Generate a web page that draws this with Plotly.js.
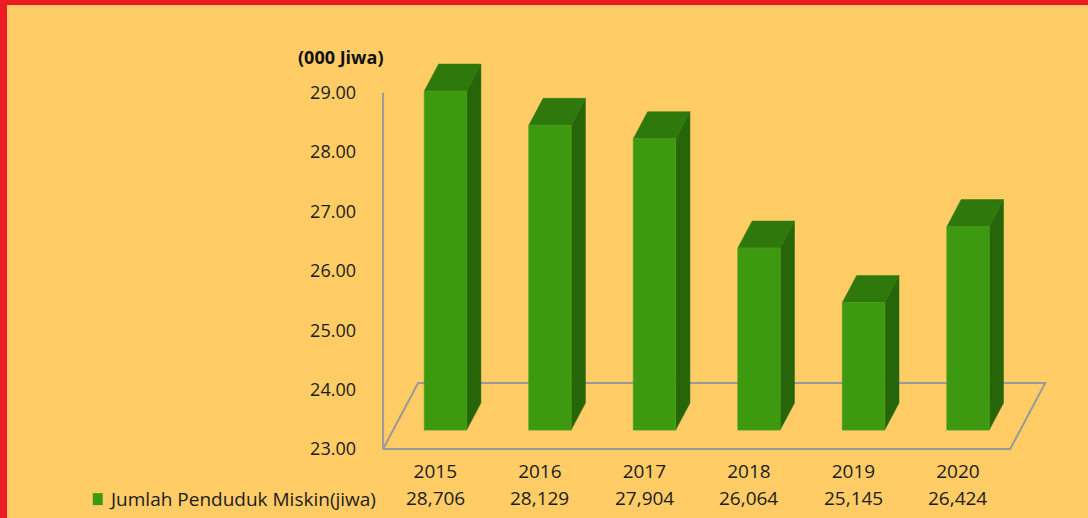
<!DOCTYPE html>
<html>
<head>
<meta charset="utf-8">
<script src="https://cdn.plot.ly/plotly-3.0.1.min.js"></script>
<style>
  html, body { margin: 0; padding: 0; background: #ED1C24; width: 1088px; height: 518px; overflow: hidden; }
  #chart { position: absolute; left: 7px; top: 5px; width: 1081px; height: 513px; }
</style>
</head>
<body>
<div id="chart"></div>
<script>
// ---- data ----
const years = ['2015', '2016', '2017', '2018', '2019', '2020'];
const values = [28.706, 28.129, 27.904, 26.064, 25.145, 26.424];
const yTicks = [23, 24, 25, 26, 27, 28, 29];
const seriesName = 'Jumlah Penduduk Miskin(jiwa)';
const axisTitle = '(000 Jiwa)';

// ---- geometry (3D look) ----
const base = 23;
const floorDX = 0.335;   // depth shift in category units
const floorDY = 1.112;   // depth shift in value units
const dFront = 0.288, dBack = 0.697;
const halfW = 0.2025;

const W = 1081, H = 513;
const mL = 373.9, mR = 36.2, mT = 52.2, mB = 63.1;
const plotW = W - mL - mR, plotH = H - mT - mB;
const xr = [-0.52, 5.9], yr = [22.9, 29.6];
const pxX = px => (px - 7 - mL) / plotW;
const pxY = py => (H - mB - (py - 5)) / plotH;

const colFront = '#3d990f', colTop = '#2f780b', colSide = '#276608';
const txt = '#1c1c1c';
const font = 'Open Sans, Liberation Sans, sans-serif';

const traces = [];
// floor parallelogram
const n = years.length;
traces.push({
  x: [-0.5, n - 0.5, n - 0.5 + floorDX, -0.5 + floorDX, -0.5],
  y: [base, base, base + floorDY, base + floorDY, base],
  mode: 'lines', line: { color: '#9a9a9a', width: 2 },
  hoverinfo: 'skip', showlegend: false
});

values.forEach((v, i) => {
  const fx = dFront * floorDX, fy = dFront * floorDY;
  const bx = dBack * floorDX, by = dBack * floorDY;
  const xl = i - halfW, xrr = i + halfW;
  // side face
  traces.push({
    x: [xrr + fx, xrr + bx, xrr + bx, xrr + fx, xrr + fx],
    y: [base + fy, base + by, v + by, v + fy, base + fy],
    mode: 'lines', fill: 'toself', fillcolor: colSide,
    line: { color: colSide, width: 0.5 }, hoverinfo: 'skip', showlegend: false
  });
  // top face
  traces.push({
    x: [xl + fx, xrr + fx, xrr + bx, xl + bx, xl + fx],
    y: [v + fy, v + fy, v + by, v + by, v + fy],
    mode: 'lines', fill: 'toself', fillcolor: colTop,
    line: { color: colTop, width: 0.5 }, hoverinfo: 'skip', showlegend: false
  });
  // front face
  traces.push({
    x: [xl + fx, xrr + fx, xrr + fx, xl + fx, xl + fx],
    y: [base + fy, base + fy, v + fy, v + fy, base + fy],
    mode: 'lines', fill: 'toself', fillcolor: colFront,
    line: { color: '#4a9f1e', width: 0.8 }, hoverinfo: 'skip', showlegend: false
  });
});

const annotations = [];
values.forEach((v, i) => {
  annotations.push({
    x: i, xref: 'x', y: pxY(498), yref: 'paper',
    text: v.toFixed(3).replace('.', ','), showarrow: false,
    xanchor: 'center', yanchor: 'middle',
    font: { family: font, size: 19, color: txt }
  });
});
annotations.push({
  x: pxX(107), xref: 'paper', y: pxY(499), yref: 'paper',
  text: seriesName, showarrow: false, xanchor: 'left', yanchor: 'middle',
  font: { family: font, size: 19, color: txt }
});
annotations.push({
  x: pxX(340), xref: 'paper', y: pxY(57), yref: 'paper',
  text: '<b>' + axisTitle + '</b>', showarrow: false, xanchor: 'center', yanchor: 'middle',
  font: { family: font, size: 18, color: '#111' }
});

const shapes = [
  { type: 'line', xref: 'x', yref: 'y', x0: -0.5, x1: -0.5, y0: base, y1: yTicks[yTicks.length - 1],
    line: { color: '#9a9a9a', width: 2 } },
  { type: 'rect', xref: 'paper', yref: 'paper', x0: pxX(92.7), x1: pxX(102.7), y0: pxY(505), y1: pxY(493),
    fillcolor: colFront, line: { width: 0 } }
];

const layout = {
  width: W, height: H,
  margin: { l: mL, r: mR, t: mT, b: mB, pad: 0 },
  paper_bgcolor: '#FFCC66', plot_bgcolor: 'rgba(0,0,0,0)',
  showlegend: false,
  xaxis: {
    range: xr, tickvals: years.map((_, i) => i), ticktext: years,
    showgrid: false, zeroline: false, showline: false, ticks: '',
    ticklabelstandoff: 3,
    tickfont: { family: font, size: 19, color: txt }, fixedrange: true
  },
  yaxis: {
    range: yr, tickvals: yTicks, ticktext: yTicks.map(t => t.toFixed(2)),
    showgrid: false, zeroline: false, showline: false, ticks: '',
    ticklabelstandoff: 24,
    tickfont: { family: font, size: 18, color: txt }, fixedrange: true
  },
  annotations: annotations,
  shapes: shapes
};

Plotly.newPlot('chart', traces, layout, { displayModeBar: false, staticPlot: true });
</script>
</body>
</html>
